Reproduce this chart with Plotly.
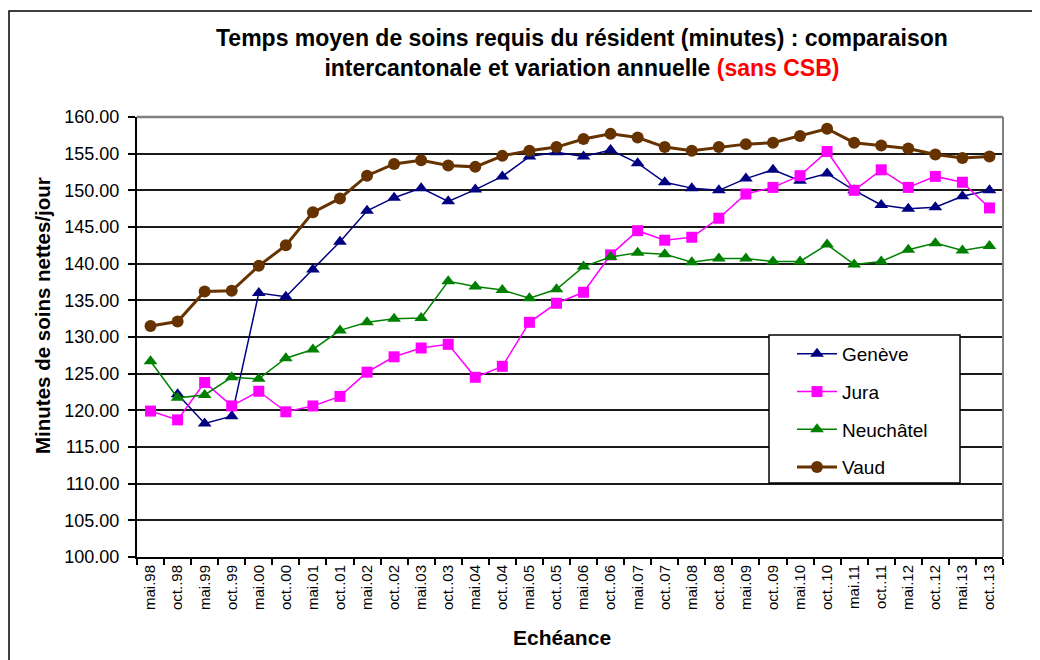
import plotly.graph_objects as go

categories = ["mai.98", "oct..98", "mai.99", "oct..99", "mai.00", "oct..00", "mai.01", "oct..01",
              "mai.02", "oct..02", "mai.03", "oct..03", "mai.04", "oct..04", "mai.05", "oct..05",
              "mai.06", "oct..06", "mai.07", "oct..07", "mai.08", "oct..08", "mai.09", "oct..09",
              "mai.10", "oct..10", "mai.11", "oct..11", "mai.12", "oct..12", "mai.13", "oct..13"]

geneve = [None, 122.2, 118.2, 119.2, 136.0, 135.5, 139.2, 143.0, 147.2, 149.0, 150.3, 148.5,
          150.1, 151.9, 154.6, 155.2, 154.6, 155.5, 153.7, 151.1, 150.3, 150.0, 151.6, 152.8,
          151.3, 152.3, 150.0, 148.0, 147.5, 147.7, 149.2, 150.0]
jura = [119.9, 118.7, 123.8, 120.6, 122.6, 119.8, 120.6, 121.9, 125.2, 127.3, 128.5, 129.0,
        124.5, 126.0, 132.0, 134.6, 136.1, 141.2, 144.5, 143.2, 143.6, 146.2, 149.5, 150.4,
        152.0, 155.3, 150.0, 152.8, 150.4, 151.9, 151.1, 147.6]
neuchatel = [126.7, 121.7, 122.1, 124.5, 124.3, 127.1, 128.3, 130.9, 132.0, 132.5, 132.6, 137.6,
             136.9, 136.4, 135.3, 136.5, 139.6, 140.9, 141.5, 141.3, 140.2, 140.7, 140.7, 140.3,
             140.3, 142.6, 139.9, 140.3, 141.9, 142.8, 141.8, 142.4]
vaud = [131.5, 132.1, 136.2, 136.3, 139.7, 142.5, 147.0, 148.9, 152.0, 153.6, 154.1, 153.4,
        153.2, 154.7, 155.4, 155.9, 157.0, 157.7, 157.2, 155.9, 155.4, 155.9, 156.3, 156.5,
        157.4, 158.4, 156.5, 156.1, 155.7, 154.9, 154.4, 154.6]

series = [
    ("Genève", geneve, "#000080", "triangle-up", 12, 1.5),
    ("Jura", jura, "#FF00FF", "square", 11, 1.5),
    ("Neuchâtel", neuchatel, "#008000", "triangle-up", 12, 1.5),
    ("Vaud", vaud, "#663300", "circle", 12, 3),
]

FONT = "Liberation Sans, Arial, sans-serif"

fig = go.Figure()
for i, (name, vals, color, sym, size, lw) in enumerate(series):
    fig.add_trace(go.Scatter(
        x=categories, y=vals, name=name, mode="lines+markers",
        line=dict(color=color, width=lw),
        marker=dict(symbol=sym, size=size, color=color),
        legendgroup=f"g{i}", connectgaps=False,
    ))

# page body has an 8px margin; work in reference-pixel coordinates and shift
OFF = 8
W, H = 1040 - OFF, 660 - OFF
L, R, T, B = 137 - OFF, 1003 - OFF, 117 - OFF, 557 - OFF
pw, ph = R - L, B - T

def px(x):
    return (x - OFF - L) / pw

def py(y):
    return (B - (y - OFF)) / ph

shapes = [
    dict(type="rect", xref="paper", yref="paper", x0=px(9), x1=px(1050), y0=py(670), y1=py(11),
         line=dict(color="black", width=1.5), fillcolor="rgba(0,0,0,0)", layer="below"),
    dict(type="line", xref="paper", yref="paper", x0=0, x1=1, y0=1, y1=1,
         line=dict(color="#808080", width=2.5), layer="above"),
    dict(type="line", xref="paper", yref="paper", x0=1, x1=1, y0=0, y1=1,
         line=dict(color="#808080", width=2), layer="above"),
    dict(type="rect", xref="paper", yref="paper", x0=px(769), x1=px(960), y0=py(483), y1=py(335),
         line=dict(color="black", width=1.5), fillcolor="white", layer="above"),
]

annotations = [
    dict(text="<b>Temps moyen de soins requis du résident (minutes) : comparaison<br>"
              "intercantonale et variation annuelle <span style='color:#FF0000'>(sans CSB)</span></b>",
         xref="paper", yref="paper", x=px(582), y=py(53), xanchor="center", yanchor="middle",
         showarrow=False, align="center", font=dict(family=FONT, size=23, color="black")),
    dict(text="<b>Minutes de soins nettes/jour</b>", xref="paper", yref="paper",
         x=px(42), y=py(316), xanchor="center", yanchor="middle", textangle=-90,
         showarrow=False, font=dict(family=FONT, size=20.5, color="black")),
    dict(text="<b>Echéance</b>", xref="paper", yref="paper", x=px(562), y=py(637),
         xanchor="center", yanchor="middle", showarrow=False,
         font=dict(family=FONT, size=21, color="black")),
]

fig.update_layout(
    width=W, height=H,
    margin=dict(l=L, r=W - R, t=T, b=H - B, pad=0),
    paper_bgcolor="white", plot_bgcolor="white",
    font=dict(family=FONT, color="black"),
    showlegend=True,
    legend=dict(x=px(792), y=py(335), xanchor="left", yanchor="top",
                bgcolor="rgba(0,0,0,0)", borderwidth=0,
                font=dict(family=FONT, size=19, color="black"),
                traceorder="grouped", tracegroupgap=10, itemwidth=40),
    shapes=shapes, annotations=annotations,
    xaxis=dict(type="category", range=[-0.5, 31.5], showgrid=False,
               showline=True, linecolor="black", linewidth=2,
               ticks="outside", tickson="boundaries", ticklen=6, tickcolor="black", tickwidth=1.5,
               tickangle=-90, tickfont=dict(family=FONT, size=15, color="black"),
               zeroline=False),
    yaxis=dict(range=[100, 160], dtick=5, tickformat=".2f",
               showgrid=True, gridcolor="#1a1a1a", gridwidth=2,
               showline=True, linecolor="black", linewidth=2,
               ticks="outside", ticklen=7, tickcolor="black", tickwidth=1.5,
               tickfont=dict(family=FONT, size=18, color="black"),
               ticklabelstandoff=5, zeroline=False),
)

fig.write_html("out.html")
